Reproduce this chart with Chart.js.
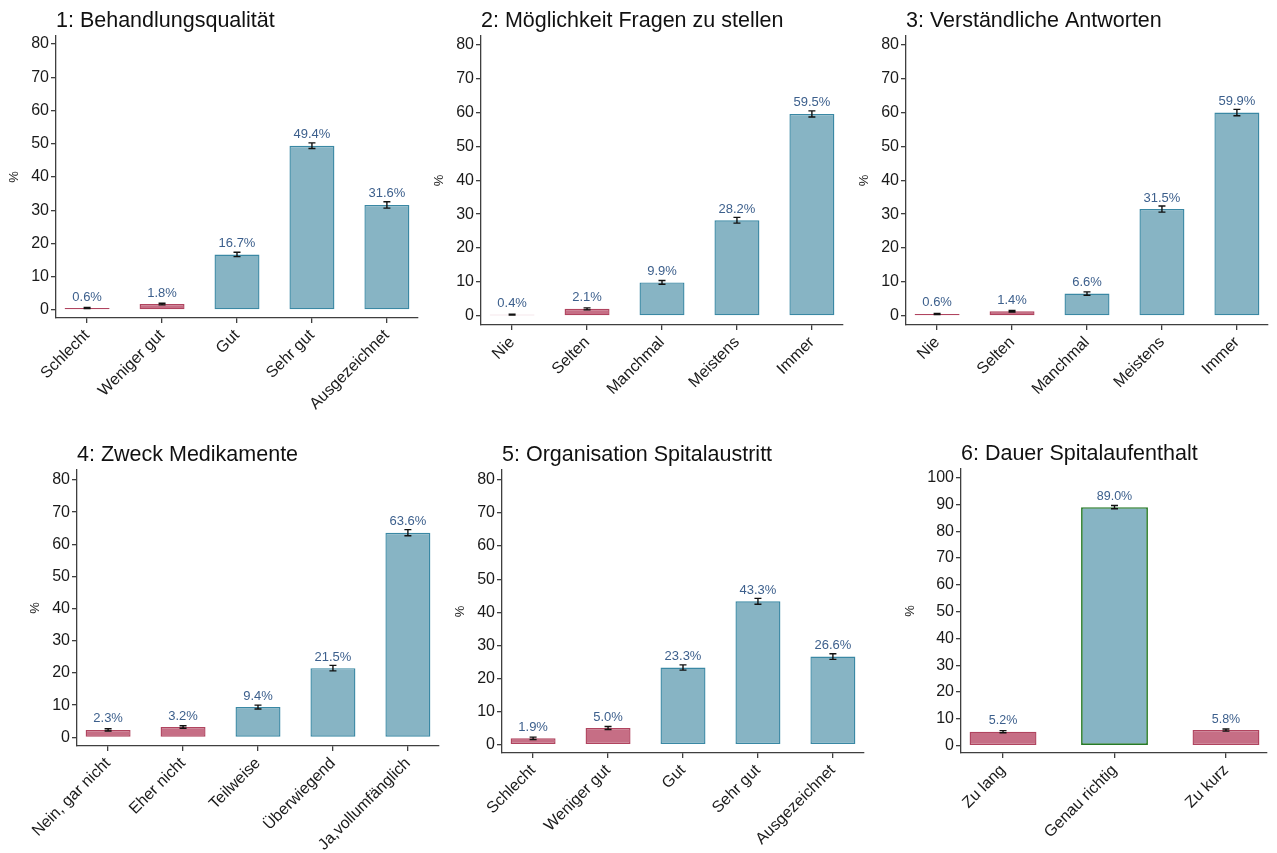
<!DOCTYPE html>
<html>
<head>
<meta charset="utf-8">
<title>Patientenzufriedenheit</title>
<script src="https://cdn.jsdelivr.net/npm/chart.js@4.4.1/dist/chart.umd.min.js"></script>
<style>
  html, body { margin: 0; padding: 0; background: #ffffff; }
  body { width: 1277px; height: 853px; position: relative; overflow: hidden; }
  canvas { position: absolute; }
</style>
</head>
<body>
<canvas id="c1"></canvas>
<canvas id="c2"></canvas>
<canvas id="c3"></canvas>
<canvas id="c4"></canvas>
<canvas id="c5"></canvas>
<canvas id="c6"></canvas>
<script>
// ---- Antwortkategorien, Anteile (%) und Fehlerbalken (± Prozentpunkte) ----
const catsQuality = ['Schlecht', 'Weniger gut', 'Gut', 'Sehr gut', 'Ausgezeichnet'];
const catsFreq    = ['Nie', 'Selten', 'Manchmal', 'Meistens', 'Immer'];
const catsMed     = ['Nein, gar nicht', 'Eher nicht', 'Teilweise', 'Überwiegend', 'Ja,vollumfänglich'];
const catsStay    = ['Zu lang', 'Genau richtig', 'Zu kurz'];

const vals1 = [0.6, 1.8, 16.7, 49.4, 31.6];
const errs1 = [0.15, 0.25, 0.65, 0.85, 0.95];
const vals2 = [0.4, 2.1, 9.9, 28.2, 59.5];
const errs2 = [0.12, 0.3, 0.55, 0.85, 0.9];
const vals3 = [0.6, 1.4, 6.6, 31.5, 59.9];
const errs3 = [0.15, 0.22, 0.5, 0.9, 0.95];
const vals4 = [2.3, 3.2, 9.4, 21.5, 63.6];
const errs4 = [0.35, 0.4, 0.6, 0.85, 0.95];
const vals5 = [1.9, 5.0, 23.3, 43.3, 26.6];
const errs5 = [0.35, 0.45, 0.8, 0.9, 0.85];
const vals6 = [5.2, 89.0, 5.8];
const errs6 = [0.4, 0.6, 0.4];

// Bewertungsgruppe je Kategorie (ungünstig / günstig / optimal)
const groups5 = ['neg', 'neg', 'pos', 'pos', 'pos'];
const groups6 = ['neg', 'best', 'neg'];

// Achsenbeschriftungen der y-Achse
const yTicks80  = [0, 10, 20, 30, 40, 50, 60, 70, 80];
const yTicks100 = [0, 10, 20, 30, 40, 50, 60, 70, 80, 90, 100];

// ---- Darstellung ----
const FONT = '"Liberation Sans", Arial, Helvetica, sans-serif';
Chart.defaults.font.family = FONT;
Chart.defaults.color = '#1a1a1a';

const fillFor   = { neg: '#c66e85', pos: '#87b4c4', best: '#87b4c4' };
const borderFor = { neg: '#b0445f', pos: '#3a88a4', best: '#277a27' };
const AXIS = '#3f3f3f';

// Fehlerbalken und Prozentangaben über den Balken
const barExtras = {
  id: 'barExtras',
  afterDatasetsDraw(chart, args, opts) {
    const ctx = chart.ctx;
    const yScale = chart.scales.y;
    const ds = chart.data.datasets[0];
    const meta = chart.getDatasetMeta(0);
    meta.data.forEach((bar, i) => {
      const v = ds.data[i].y;
      const e = opts.errors[i];
      const yHi = yScale.getPixelForValue(v + e);
      const yLo = yScale.getPixelForValue(v - e);
      ctx.save();
      ctx.strokeStyle = '#111111';
      ctx.lineWidth = 1.4;
      ctx.beginPath();
      ctx.moveTo(bar.x, yHi); ctx.lineTo(bar.x, yLo);
      ctx.moveTo(bar.x - 3.5, yHi); ctx.lineTo(bar.x + 3.5, yHi);
      ctx.moveTo(bar.x - 3.5, yLo); ctx.lineTo(bar.x + 3.5, yLo);
      ctx.stroke();
      ctx.fillStyle = '#3c5f8c';
      ctx.font = opts.labelSize + 'px ' + FONT;
      ctx.textAlign = 'center';
      ctx.textBaseline = 'alphabetic';
      ctx.fillText(v.toFixed(1) + '%', bar.x, bar.y - 7.5);
      ctx.restore();
    });
  }
};

function makePanel(p) {
  const canvas = document.getElementById(p.id);
  canvas.width = p.width;
  canvas.height = p.height;
  canvas.style.left = p.left + 'px';
  canvas.style.top = p.top + 'px';
  canvas.style.width = p.width + 'px';
  canvas.style.height = p.height + 'px';

  const axisGrid = {
    display: true, drawOnChartArea: false, drawTicks: true, offset: false,
    tickLength: 5, color: AXIS, lineWidth: 1.3
  };
  const axisBorder = { display: true, color: AXIS, width: 1.3 };

  new Chart(canvas, {
    type: 'bar',
    data: {
      datasets: [{
        data: p.vals.map((v, i) => ({ x: i, y: v })),
        backgroundColor: p.groups.map(g => fillFor[g]),
        borderColor: p.groups.map(g => borderFor[g]),
        borderWidth: p.groups.map(g => (g === 'best' ? 1.7 : 1.4)),
        borderSkipped: false,
        categoryPercentage: 1.0,
        barPercentage: 0.6
      }]
    },
    options: {
      responsive: false,
      animation: false,
      events: [],
      layout: { padding: { left: 0, top: 0, right: p.padRight, bottom: 0 } },
      scales: {
        x: {
          type: 'linear',
          offset: false,
          min: p.xMin, max: p.xMax,
          afterBuildTicks: s => { s.ticks = p.cats.map((_, i) => ({ value: i })); },
          afterFit: s => { s.height = p.xAxisH; },
          ticks: {
            callback: (v, i) => p.cats[i],
            autoSkip: false, minRotation: 45, maxRotation: 45,
            font: { size: 16 }, color: '#1a1a1a', padding: 3
          },
          grid: axisGrid,
          border: axisBorder
        },
        y: {
          type: 'linear',
          min: p.yMin, max: p.yMax,
          afterBuildTicks: s => { s.ticks = p.yTicks.map(v => ({ value: v })); },
          afterFit: s => { s.width = p.axisW; },
          ticks: { font: { size: 16 }, color: '#1a1a1a', padding: 2, autoSkip: false },
          grid: axisGrid,
          border: axisBorder,
          title: {
            display: true, text: '%', color: '#222222',
            font: { size: 13 }, padding: { top: 7, bottom: 0 }
          }
        }
      },
      plugins: {
        legend: { display: false },
        tooltip: { enabled: false },
        title: {
          display: true, text: p.title, align: 'start', fullSize: false,
          color: '#111111', font: { size: 21.5, weight: 'normal', lineHeight: 1.2 },
          padding: { top: 8, bottom: 2.2 }
        },
        barExtras: { errors: p.errs, labelSize: p.labelSize }
      }
    },
    plugins: [barExtras]
  });
}

const xRange5 = [-0.415, 4.415];
const xRange3 = [-0.377, 2.368];

makePanel({ id: 'c1', title: '1: Behandlungsqualität', cats: catsQuality, vals: vals1, errs: errs1,
  groups: groups5, yTicks: yTicks80, yMin: -2.4, yMax: 82.4, xMin: xRange5[0], xMax: xRange5[1],
  left: 0, top: 0, width: 426, height: 425, axisW: 56, xAxisH: 107, padRight: 8, labelSize: 13 });
makePanel({ id: 'c2', title: '2: Möglichkeit Fragen zu stellen', cats: catsFreq, vals: vals2, errs: errs2,
  groups: groups5, yTicks: yTicks80, yMin: -2.65, yMax: 82.45, xMin: xRange5[0], xMax: xRange5[1],
  left: 425, top: 0, width: 426, height: 425, axisW: 56, xAxisH: 100, padRight: 8, labelSize: 13 });
makePanel({ id: 'c3', title: '3: Verständliche Antworten', cats: catsFreq, vals: vals3, errs: errs3,
  groups: groups5, yTicks: yTicks80, yMin: -2.65, yMax: 82.45, xMin: xRange5[0], xMax: xRange5[1],
  left: 850, top: 0, width: 426, height: 425, axisW: 56, xAxisH: 100, padRight: 8, labelSize: 13 });
makePanel({ id: 'c4', title: '4: Zweck Medikamente', cats: catsMed, vals: vals4, errs: errs4,
  groups: groups5, yTicks: yTicks80, yMin: -2.7, yMax: 83.1, xMin: xRange5[0], xMax: xRange5[1],
  left: 21, top: 434, width: 426, height: 419, axisW: 56, xAxisH: 107, padRight: 8, labelSize: 13 });
makePanel({ id: 'c5', title: '5: Organisation Spitalaustritt', cats: catsQuality, vals: vals5, errs: errs5,
  groups: groups5, yTicks: yTicks80, yMin: -2.55, yMax: 83.0, xMin: xRange5[0], xMax: xRange5[1],
  left: 446, top: 434, width: 426, height: 419, axisW: 56, xAxisH: 100, padRight: 8, labelSize: 13 });
makePanel({ id: 'c6', title: '6: Dauer Spitalaufenthalt', cats: catsStay, vals: vals6, errs: errs6,
  groups: groups6, yTicks: yTicks100, yMin: -2.77, yMax: 103.25, xMin: xRange3[0], xMax: xRange3[1],
  left: 896, top: 433, width: 379, height: 420, axisW: 65, xAxisH: 100, padRight: 8, labelSize: 12.5 });
</script>
</body>
</html>
